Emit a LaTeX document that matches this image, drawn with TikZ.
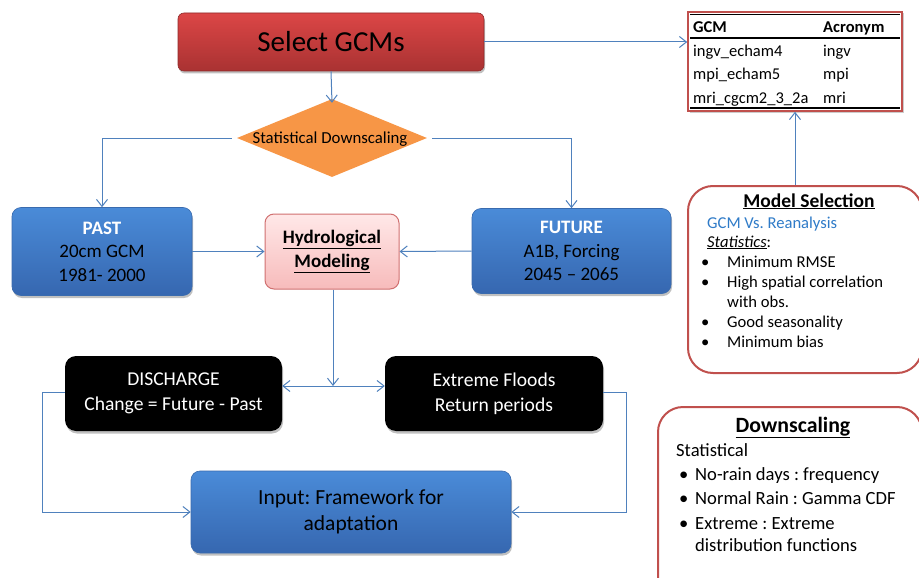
\documentclass[tikz,border=0pt]{standalone}
\usepackage{fontspec}
\setmainfont{Carlito}
\usetikzlibrary{shapes.geometric,arrows.meta,shadows}
\frenchspacing
\definecolor{lnk}{HTML}{4F81BD}
\definecolor{blueT}{HTML}{4A8BD8}
\definecolor{blueB}{HTML}{3667B0}
\definecolor{blueD}{HTML}{3A6BAE}
\definecolor{redT}{HTML}{DC4646}
\definecolor{redB}{HTML}{A93232}
\definecolor{redD}{HTML}{8E2A2A}
\definecolor{orng}{HTML}{F79646}
\definecolor{pinkT}{HTML}{FFE8E8}
\definecolor{pinkB}{HTML}{F7BBBB}
\definecolor{pinkD}{HTML}{D07070}
\definecolor{frame}{HTML}{C0504D}
\definecolor{txtblue}{HTML}{2F7BC8}
\tikzset{
  conn/.style={draw=lnk, line width=1pt},
  arr/.style={conn, -{Straight Barb[length=7pt,width=11pt]}},
  shad/.style={drop shadow={shadow xshift=1pt, shadow yshift=-2.5pt, opacity=0.35, fill=black!70}},
  bluebox/.style={rectangle, rounded corners=9pt, draw=blueD, line width=0.6pt,
    top color=blueT, bottom color=blueB, inner sep=0pt, align=center, shad},
  blackbox/.style={rectangle, rounded corners=11pt, fill=black, inner sep=0pt,
    align=center, text=white, shad},
  notebox/.style={rectangle, rounded corners=25pt, draw=frame, line width=2pt, fill=white, inner sep=0pt},
  txt/.style={inner sep=0pt, anchor=base west},
}
\begin{document}
\begin{tikzpicture}[x=1pt,y=-1pt]
\useasboundingbox (0,0) rectangle (919,578);
\clip (0,0) rectangle (919,578);
\fill[white] (0,0) rectangle (919,578);

% Select GCMs
\node[rectangle, rounded corners=6pt, draw=redD, line width=0.6pt, top color=redT, bottom color=redB,
  minimum width=306pt, minimum height=58pt, inner sep=0pt, shad,
  font=\fontsize{29}{34}\selectfont] (sel) at (331,42) {Select GCMs};

% diamond
\node[diamond, fill=orng, minimum width=190pt, minimum height=78pt, inner sep=0pt] (dia) at (332,138) {};
\node[inner sep=0pt, font=\fontsize{16.8}{20}\selectfont] (diat) at (330,139) {Statistical Downscaling};

% PAST / Hydro / FUTURE
\node[bluebox, minimum width=180pt, minimum height=88pt, font=\fontsize{19}{23.5}\selectfont] (past) at (102,251.5)
  {\textcolor{white}{\bfseries PAST}\\20cm GCM\\1981- 2000};
\node[rectangle, rounded corners=9pt, draw=pinkD, line width=1pt, top color=pinkT, bottom color=pinkB,
  minimum width=134pt, minimum height=75pt, inner sep=0pt, align=center,
  font=\bfseries\fontsize{19}{24}\selectfont] (hydro) at (332,251.5)
  {\underline{Hydrological}\\\underline{Modeling}};
\node[bluebox, minimum width=199pt, minimum height=85pt, font=\fontsize{19}{23.5}\selectfont] (fut) at (571.5,251)
  {\textcolor{white}{\bfseries FUTURE}\\A1B, Forcing\\2045 -- 2065};

% black boxes
\node[blackbox, minimum width=217pt, minimum height=75pt, font=\fontsize{19.6}{25}\selectfont] (dis) at (173.5,393.5)
  {DISCHARGE\\Change = Future - Past};
\node[blackbox, minimum width=218pt, minimum height=75pt, font=\fontsize{19.6}{25}\selectfont] (ext) at (494,393.5)
  {Extreme Floods\\Return periods};

% Input
\node[bluebox, minimum width=320pt, minimum height=82pt, font=\fontsize{21.5}{26}\selectfont] (inp) at (351,512)
  {Input: Framework for\\adaptation};

% Table
\node[rectangle, draw=frame, line width=1.6pt, fill=white, minimum width=214pt, minimum height=99pt,
  inner sep=0pt, drop shadow={shadow xshift=1.5pt, shadow yshift=-1.5pt, opacity=0.4}] (tab) at (795,61.5) {};
\draw[black, line width=1.6pt] (690,14.5) -- (900,14.5);
\draw[black, line width=1.6pt] (690,38) -- (900,38);
\draw[black, line width=2pt] (690,108) -- (900,108);
\begin{scope}[every node/.style={txt, font=\fontsize{16.5}{20}\selectfont}]
  \node (h1) at (693,33) {\bfseries GCM};
  \node (h2) at (823,33) {\bfseries Acronym};
  \node (r1a) at (693,57) {ingv\_echam4};
  \node (r1b) at (823,57) {ingv};
  \node (r2a) at (693,80) {mpi\_echam5};
  \node (r2b) at (823,80) {mpi};
  \node (r3a) at (693,103) {mri\_cgcm2\_3\_2a};
  \node (r3b) at (823,103) {mri};
\end{scope}

% Model Selection box
\node[notebox, minimum width=234pt, minimum height=187pt] (msel) at (805,279.5) {};
\node[inner sep=0pt, anchor=base, font=\bfseries\fontsize{19.5}{23}\selectfont] (mst) at (809,207) {\underline{Model Selection}};
\begin{scope}[every node/.style={txt, font=\fontsize{16.6}{20}\selectfont}]
  \node[text=txtblue] (m1) at (707,228) {GCM Vs. Reanalysis};
  \node (m2) at (707,247) {\underline{\itshape Statistics}:};
  \node (b1) at (701,267) {•}; \node (t1) at (727,267) {Minimum RMSE};
  \node (b2) at (701,287) {•}; \node (t2) at (727,287) {High spatial correlation};
  \node (t2b) at (727,307) {with obs.};
  \node (b3) at (701,327) {•}; \node (t3) at (727,327) {Good seasonality};
  \node (b4) at (701,347) {•}; \node (t4) at (727,347) {Minimum bias};
\end{scope}

% Downscaling box
\node[notebox, minimum width=264pt, minimum height=200pt] (dsc) at (790,507) {};
\node[inner sep=0pt, anchor=base, font=\bfseries\fontsize{21.8}{26}\selectfont] (dst) at (793,432) {\underline{Downscaling}};
\begin{scope}[every node/.style={txt, font=\fontsize{18.6}{22}\selectfont}]
  \node (d0) at (676,456) {Statistical};
  \node (db1) at (679,480) {•}; \node (dt1) at (695,480) {No-rain days : frequency};
  \node (db2) at (679,504) {•}; \node (dt2) at (695,504) {Normal Rain : Gamma CDF};
  \node (db3) at (679,529) {•}; \node (dt3) at (695,529) {Extreme : Extreme};
  \node (dt3b) at (695,551) {distribution functions};
\end{scope}

% Connectors
\draw[arr] (sel.south) -- ([yshift=-4pt]dia.north);
\draw[arr, shorten <=5pt] (dia.west) -| (past.north);
\draw[arr, shorten <=5pt] (dia.east) -| (fut.north);
\draw[arr] (sel.east) -- (sel.east -| tab.west);
\draw[arr] (tab.south |- msel.north) -- (tab.south);
\draw[arr] (past.east) -- (hydro.west);
\draw[arr] (fut.west) -- (hydro.east);
\coordinate (mid) at (333,386);
\draw[arr] (hydro.south -| mid) -- (mid);
\draw[arr] (mid) -- (mid -| dis.east);
\draw[arr] (mid) -- (mid -| ext.west);
\coordinate (lft) at (42,392);
\coordinate (rgt) at (626,392);
\draw[arr] (dis.west |- lft) -- (lft) |- (inp.west);
\draw[arr] (ext.east |- rgt) -- (rgt) |- (inp.east);
\end{tikzpicture}
\end{document}
